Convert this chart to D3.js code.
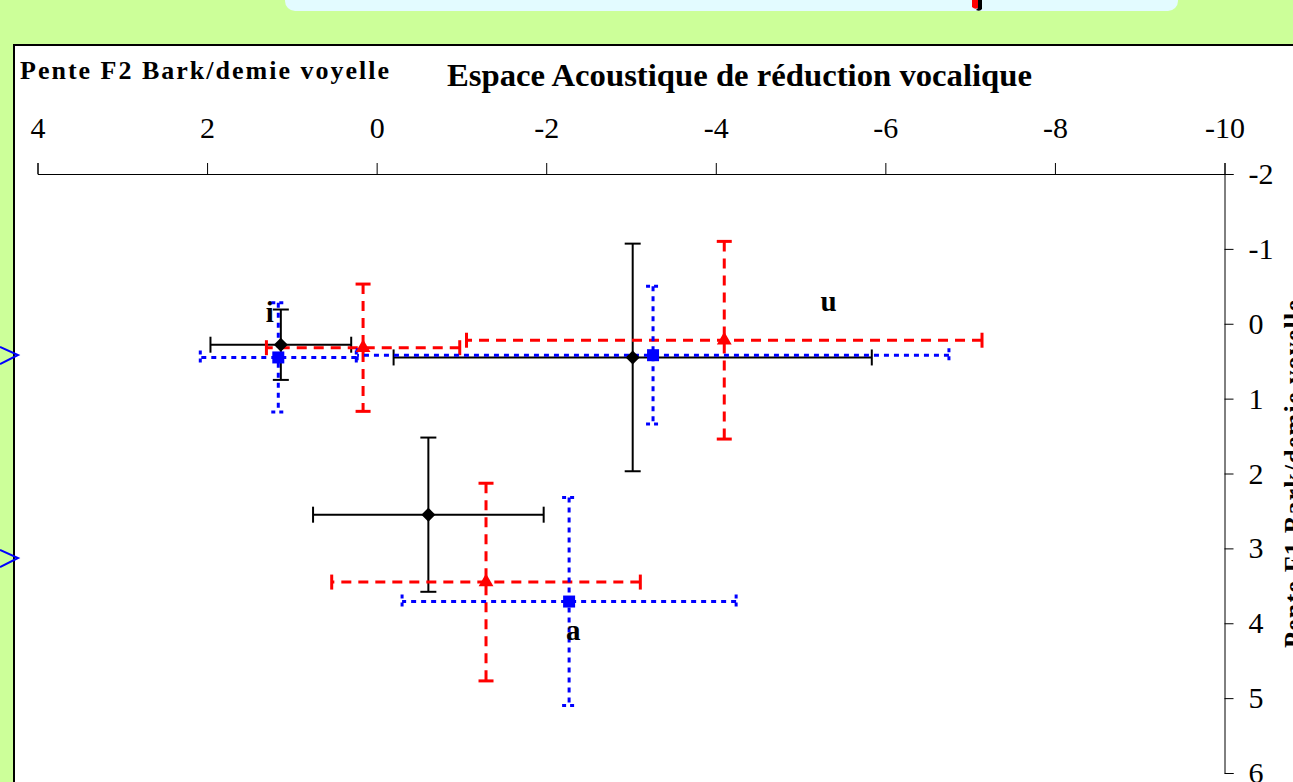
<!DOCTYPE html>
<html><head><meta charset="utf-8">
<script src="https://cdn.jsdelivr.net/npm/d3@7"></script>
<style>
html,body{margin:0;padding:0;background:#ccff99;overflow:hidden;}
svg{display:block;}
text{font-family:"Liberation Serif","Times New Roman",serif;}
</style></head>
<body>
<svg id="chart" width="1293" height="782"></svg>
<script>
// ---- data ----
const vowels = ["i", "u", "a"];
const seriesNames = ["black", "red", "blue"];
const blackX = [1.13, -3.02, -0.61];
const blackXErr = [0.83, 2.82, 1.36];
const blackY = [0.28, 0.45, 2.55];
const blackYErr = [0.47, 1.52, 1.03];
const redX = [0.16, -4.10, -1.29];
const redXErr = [1.14, 3.04, 1.82];
const redY = [0.32, 0.22, 3.45];
const redYErr = [0.85, 1.32, 1.32];
const blueX = [1.16, -3.26, -2.27];
const blueXErr = [0.92, 3.49, 1.97];
const blueY = [0.45, 0.42, 3.71];
const blueYErr = [0.73, 0.92, 1.39];
const labelX = [1.26, -5.33, -2.32];
const labelY = [-0.02, -0.17, 4.23];
const xTicks = [4, 2, 0, -2, -4, -6, -8, -10];
const yTicks = [-2, -1, 0, 1, 2, 3, 4, 5, 6];
const titleText = "Espace Acoustique de réduction vocalique";
const xTitle = "Pente F2 Bark/demie voyelle";
const yTitle = "Pente F1 Bark/demie voyelle";

const svg = d3.select("#chart");

// ---- decorations outside chart ----
svg.append("rect").attr("x", 285).attr("y", -20).attr("width", 893).attr("height", 31)
  .attr("rx", 10).attr("fill", "#e3fbff");
svg.append("path").attr("d", "M972,0 L978,0 L978,8 Q975,10 972,7 Z").attr("fill", "#ff0000");
svg.append("path").attr("d", "M978,0 L982,0 L982,9 Q980,12 976,10 L978,8 Z").attr("fill", "#000");

// chart frame
svg.append("rect").attr("x", 14).attr("y", 45).attr("width", 1400).attr("height", 800)
  .attr("fill", "#ffffff").attr("stroke", "#000").attr("stroke-width", 2);

// left arrows
[355, 558].forEach(cy => {
  svg.append("polyline").attr("points", `0,${cy-8} 18,${cy} 0,${cy+9}`)
    .attr("fill", "none").attr("stroke", "#0000ff").attr("stroke-width", 2);
});

// ---- scales ----
const x = d3.scaleLinear().domain([4, -10]).range([37.5, 1224.5]);
const y = d3.scaleLinear().domain([-2, 6]).range([174, 773]);

// axes
const gx = svg.append("g").attr("transform", "translate(0,174)")
  .call(d3.axisTop(x).tickValues(xTicks).tickSize(11).tickSizeOuter(11).tickPadding(25)
    .tickFormat(d => String(d)));
gx.selectAll("text").attr("font-size", 30).attr("fill", "#000")
  .style("font-family", '"Liberation Serif",serif');
gx.selectAll("line,path").attr("stroke", "#000");

const gy = svg.append("g").attr("transform", "translate(1224.5,0)")
  .call(d3.axisRight(y).tickValues(yTicks).tickSize(9).tickSizeOuter(9).tickPadding(15)
    .tickFormat(d => String(d)));
gy.selectAll("text").attr("font-size", 30).attr("fill", "#000")
  .style("font-family", '"Liberation Serif",serif');
gy.selectAll("line,path").attr("stroke", "#000");

// titles
svg.append("text").attr("x", 447).attr("y", 86).attr("font-size", 32).attr("font-weight", "bold")
  .attr("textLength", 585).attr("lengthAdjust", "spacingAndGlyphs").text(titleText);
svg.append("text").attr("x", 20).attr("y", 79).attr("font-size", 26).attr("font-weight", "bold")
  .attr("textLength", 369).attr("lengthAdjust", "spacing").text(xTitle);
svg.append("text").attr("transform", "translate(1302,474) rotate(-90)").attr("text-anchor", "middle")
  .attr("font-size", 26).attr("font-weight", "bold").attr("textLength", 348).attr("lengthAdjust", "spacing")
  .text(yTitle);

// ---- series ----
const diamond = { draw(ctx, size) { const r = Math.sqrt(size) / 2; ctx.moveTo(0, -r); ctx.lineTo(r, 0); ctx.lineTo(0, r); ctx.lineTo(-r, 0); ctx.closePath(); } };
const series = [
  { name: "black", xs: blackX, xe: blackXErr, ys: blackY, ye: blackYErr, color: "#000000", width: 2, dash: null, capDash: null, cap: 8, sym: diamond, size: 196 },
  { name: "red", xs: redX, xe: redXErr, ys: redY, ye: redYErr, color: "#ff0000", width: 3, dash: "10,7", capDash: null, cap: 7.5, sym: d3.symbolTriangle, size: 95 },
  { name: "blue", xs: blueX, xe: blueXErr, ys: blueY, ye: blueYErr, color: "#0000ff", width: 3, dash: "5,5", capDash: "4,4", cap: 7, sym: d3.symbolSquare, size: 144 }
];

series.forEach(s => {
  const g = svg.append("g").attr("class", "series-" + s.name);
  const pts = vowels.map((v, i) => ({ v, x: s.xs[i], xe: s.xe[i], y: s.ys[i], ye: s.ye[i] }));
  const style = (sel, dash) => sel.attr("stroke", s.color).attr("stroke-width", s.width)
    .attr("stroke-dasharray", dash).attr("fill", "none");
  // horizontal bars
  style(g.selectAll(".h").data(pts).join("line").attr("class", "h")
    .attr("x1", d => x(d.x - d.xe)).attr("x2", d => x(d.x + d.xe))
    .attr("y1", d => y(d.y)).attr("y2", d => y(d.y)), s.dash);
  // vertical bars
  style(g.selectAll(".v").data(pts).join("line").attr("class", "v")
    .attr("x1", d => x(d.x)).attr("x2", d => x(d.x))
    .attr("y1", d => y(d.y - d.ye)).attr("y2", d => y(d.y + d.ye)), s.dash);
  // caps
  [-1, 1].forEach(sg => {
    style(g.selectAll(".cx" + sg).data(pts).join("line").attr("class", "cx" + sg)
      .attr("x1", d => x(d.x + sg * d.xe)).attr("x2", d => x(d.x + sg * d.xe))
      .attr("y1", d => y(d.y) - s.cap).attr("y2", d => y(d.y) + s.cap), s.capDash);
    style(g.selectAll(".cy" + sg).data(pts).join("line").attr("class", "cy" + sg)
      .attr("y1", d => y(d.y + sg * d.ye)).attr("y2", d => y(d.y + sg * d.ye))
      .attr("x1", d => x(d.x) - s.cap).attr("x2", d => x(d.x) + s.cap), s.capDash);
  });
});
// markers on top
series.forEach(s => {
  const pts = vowels.map((v, i) => ({ x: s.xs[i], y: s.ys[i] }));
  svg.append("g").selectAll("path").data(pts).join("path")
    .attr("d", d3.symbol().type(s.sym).size(s.size))
    .attr("transform", d => `translate(${x(d.x)},${y(d.y)})`)
    .attr("fill", s.color);
});

// vowel labels
svg.append("g").selectAll("text").data(vowels).join("text")
  .attr("x", (d, i) => x(labelX[i])).attr("y", (d, i) => y(labelY[i]))
  .attr("text-anchor", "middle").attr("font-size", 29).attr("font-weight", "bold")
  .text(d => d);
</script>
</body></html>
